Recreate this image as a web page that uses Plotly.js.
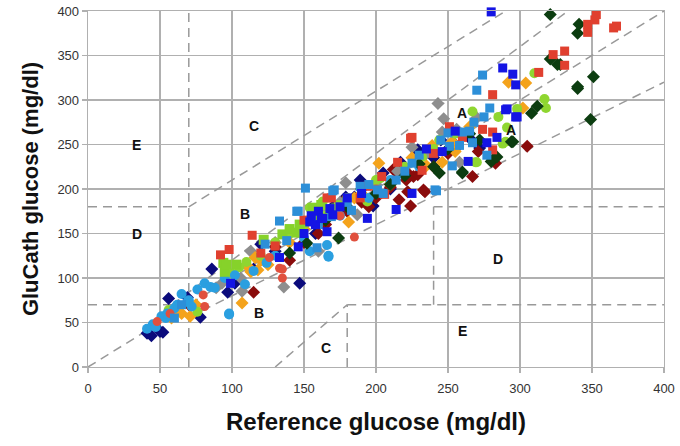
<!DOCTYPE html>
<html>
<head>
<meta charset="utf-8">
<script src="https://cdn.plot.ly/plotly-3.0.1.min.js"></script>
<style>html,body{margin:0;padding:0;background:#fff;}#chart{width:680px;height:446px;}</style>
</head>
<body>
<div id="chart"></div>
<script>
// Zone boundary segments (Clarke error grid), each [x1,y1,x2,y2]
const zoneSegments = [
  [0,0,400,400],
  [58.33,70,333.33,400],
  [70,56,400,320],
  [70,180,290,400],
  [0,180,70,180],
  [0,70,58.33,70],
  [70,0,70,400],
  [130,0,180,70],
  [180,0,180,70],
  [180,70,400,70],
  [240,70,240,180],
  [240,180,400,180]
];
const zoneLabels = ["A","A","B","B","C","C","D","D","E","E"];
const zoneLabelX = [260, 294, 109, 119, 115, 165, 34, 285, 34, 260];
const zoneLabelY = [285, 266, 172, 61, 271, 21, 150, 121, 250, 40];

// Series values
const navyX = [41, 44, 50, 52, 56, 69, 78, 86, 97, 102, 115, 120, 130, 140, 147, 150, 158, 160, 170, 179, 185, 189, 198, 205, 210, 217, 228, 229, 240, 245, 255, 265, 272];
const navyY = [38, 35, 40, 39, 77, 78, 56, 110, 84, 94, 110, 138, 130, 150, 94, 160, 150, 165, 180, 191, 191, 210, 181, 218, 200, 230, 242, 244, 235, 255, 250, 257, 246];

const darkRedX = [70, 115, 130, 140, 150, 160, 165, 177, 180, 190, 195, 200, 210, 212, 215, 216, 221, 222, 222, 224, 226, 229, 233, 234, 240, 250, 255, 267, 271, 283, 305];
const darkRedY = [70, 84, 135, 120, 140, 150, 160, 186, 175, 185, 180, 190, 202, 222, 218, 188, 210, 197, 218, 181, 214, 216, 199, 197, 225, 240, 245, 214, 242, 229, 248];

const grayX = [89, 93, 106, 107, 113, 120, 130, 136, 150, 160, 165, 175, 179, 187, 200, 215, 225, 235, 243, 246, 247, 256, 258, 270];
const grayY = [89, 94, 100, 85, 130, 120, 140, 90, 155, 130, 175, 185, 207, 171, 205, 220, 247, 240, 296, 264, 279, 267, 230, 280];

const orangeX = [58, 60, 63, 65, 71, 75, 107, 111, 113, 116, 118, 120, 125, 140, 150, 160, 170, 181, 185, 190, 202, 210, 225, 235, 239, 246, 253, 255, 265, 292, 302, 304];
const orangeY = [55, 62, 68, 60, 57, 70, 72, 113, 107, 123, 109, 120, 115, 140, 155, 165, 175, 163, 190, 195, 229, 205, 235, 226, 249, 230, 253, 242, 270, 320, 291, 319];

const greenCircleX = [56, 76, 100, 105, 110, 120, 130, 140, 150, 154, 163, 165, 170, 174, 180, 194, 200, 203, 210, 220, 232, 240, 244, 255, 267, 269, 270, 285, 288, 290, 291, 298, 310, 317, 318];
const greenCircleY = [64, 62, 105, 112, 118, 125, 140, 150, 160, 179, 186, 170, 178, 182, 190, 186, 210, 212, 208, 225, 236, 245, 255, 262, 287, 230, 230, 281, 251, 253, 269, 290, 330, 301, 291];

const greenSquareX = [94, 95, 96, 103, 122, 135, 140, 145, 147, 156, 158, 162];
const greenSquareY = [117, 107, 115, 115, 143, 149, 155, 151, 160, 179, 170, 182];

const cyanX = [41, 45, 47, 51, 54, 55, 60, 62, 65, 69, 70, 72, 76, 81, 85, 88, 95, 98, 98, 102, 109, 115, 124, 130, 150, 154, 166, 167, 167, 175, 195, 210, 230];
const cyanY = [43, 48, 45, 57, 55, 60, 66, 70, 82, 73, 75, 68, 87, 94, 90, 89, 100, 60, 59, 103, 93, 108, 117, 125, 145, 130, 137, 124, 125, 170, 190, 210, 225];

const redCircleX = [48, 57, 80, 81, 126, 133, 135, 135, 175, 185, 200];
const redCircleY = [51, 60, 81, 68, 123, 111, 110, 100, 170, 146, 200];

const darkGreenX = [140, 152, 165, 174, 180, 190, 200, 210, 220, 230, 240, 244, 250, 260, 260, 265, 272, 280, 281, 284, 294, 295, 308, 312, 321, 321, 326, 328, 340, 340, 340, 341, 349, 351];
const darkGreenY = [128, 139, 165, 145, 180, 200, 195, 205, 215, 228, 225, 218, 245, 218, 219, 262, 255, 231, 233, 236, 253, 253, 285, 293, 346, 396, 340, 340, 313, 315, 375, 385, 278, 326];

const redSquareX = [92, 98, 114, 120, 130, 150, 166, 169, 189, 194, 204, 206, 215, 224, 225, 232, 240, 251, 260, 274, 281, 281, 281, 313, 323, 331, 331, 347, 347, 352, 353, 365, 367];
const redSquareY = [126, 132, 148, 128, 136, 165, 190, 190, 190, 203, 214, 194, 230, 257, 258, 221, 240, 270, 258, 267, 264, 244, 306, 331, 351, 355, 339, 385, 376, 390, 396, 381, 383];

const lightBlueSquareX = [60, 65, 123, 133, 138, 145, 146, 151, 155, 159, 160, 169, 170, 171, 180, 183, 189, 195, 201, 205, 214, 220, 225, 230, 241, 242, 245, 250, 251, 253, 258, 260, 265, 267, 268, 270, 274, 275, 277, 279];
const lightBlueSquareY = [55, 70, 138, 164, 142, 175, 175, 201, 165, 134, 160, 169, 198, 199, 185, 176, 203, 205, 199, 195, 210, 220, 229, 238, 199, 198, 255, 263, 248, 226, 249, 264, 265, 252, 275, 311, 328, 281, 238, 291];

const blueSquareX = [99, 133, 146, 150, 154, 155, 158, 160, 162, 163, 166, 168, 170, 175, 180, 190, 194, 214, 225, 235, 246, 255, 264, 277, 280, 284, 288, 290, 291, 295, 297, 297, 298];
const blueSquareY = [94, 123, 135, 150, 163, 170, 160, 175, 167, 167, 152, 178, 171, 180, 190, 195, 167, 177, 195, 245, 242, 265, 231, 252, 399, 258, 336, 289, 290, 329, 317, 281, 281];

function mk(x, y, color, symbol, size) {
  return {type: 'scatter', mode: 'markers', x: x, y: y, cliponaxis: false,
    hoverinfo: 'skip', showlegend: false,
    marker: {color: color, symbol: symbol, size: size, line: {width: 0}}};
}

// Build zone line trace from segments
const lx = [], ly = [];
zoneSegments.forEach(s => { lx.push(s[0], s[2], null); ly.push(s[1], s[3], null); });

const traces = [
  {type: 'scatter', mode: 'lines', x: lx, y: ly, showlegend: false, hoverinfo: 'skip',
   line: {color: '#999999', width: 1.5, dash: '9px,6px'}},
  mk(navyX, navyY, '#0b0b7c', 'diamond', 10),
  mk(darkRedX, darkRedY, '#8a0c0c', 'diamond', 10),
  mk(grayX, grayY, '#8e8e8e', 'diamond', 10),
  mk(orangeX, orangeY, '#f4a31c', 'diamond', 10),
  mk(greenCircleX, greenCircleY, '#8fd630', 'circle', 10),
  mk(cyanX, cyanY, '#2a9fe0', 'circle', 10),
  mk(redCircleX, redCircleY, '#e0503e', 'circle', 9),
  mk(darkGreenX, darkGreenY, '#0c3d10', 'diamond', 10),
  mk(greenSquareX, greenSquareY, '#86d22a', 'square', 10),
  mk(redSquareX, redSquareY, '#e0402f', 'square', 9),
  mk(lightBlueSquareX, lightBlueSquareY, '#2d8fd8', 'square', 9),
  mk(blueSquareX, blueSquareY, '#1414e4', 'square', 9)
];

const annotations = zoneLabels.map((t, i) => ({
  x: zoneLabelX[i], y: zoneLabelY[i], text: t, showarrow: false,
  font: {family: 'Liberation Sans, Arial, sans-serif', size: 14, color: '#111', weight: 'bold'}
}));

const axisCommon = {
  range: [0, 400], dtick: 50, tick0: 0, showgrid: true, gridcolor: '#b0b0b0', gridwidth: 1.3,
  zeroline: false, showline: true, linecolor: '#b0b0b0', linewidth: 1.3, mirror: true,
  ticks: 'outside', ticklen: 5, tickcolor: '#b0b0b0', tickwidth: 1.3,
  tickfont: {family: 'Liberation Sans, Arial, sans-serif', size: 13, color: '#333'},
  fixedrange: true
};

const layout = {
  width: 680, height: 446,
  margin: {l: 88, r: 16, t: 11, b: 79},
  paper_bgcolor: '#fff', plot_bgcolor: '#fff',
  xaxis: Object.assign({}, axisCommon, {
    ticklabelstandoff: 4,
    title: {text: 'Reference glucose (mg/dl)', standoff: 18,
      font: {family: 'Liberation Sans, Arial, sans-serif', size: 24, color: '#111', weight: 'bold'}}
  }),
  yaxis: Object.assign({}, axisCommon, {
    title: {text: 'GluCath glucose (mg/dl)', standoff: 12,
      font: {family: 'Liberation Sans, Arial, sans-serif', size: 22, color: '#111', weight: 'bold'}}
  }),
  annotations: annotations,
  showlegend: false
};

Plotly.newPlot('chart', traces, layout, {staticPlot: true, displayModeBar: false});
</script>
</body>
</html>
